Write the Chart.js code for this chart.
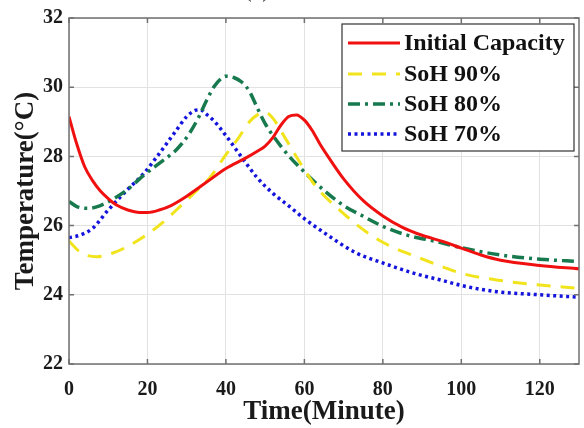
<!DOCTYPE html>
<html>
<head>
<meta charset="utf-8">
<script src="https://cdn.jsdelivr.net/npm/chart.js@4/dist/chart.umd.min.js"></script>
<style>
  html, body { margin: 0; padding: 0; background: #fff; overflow: hidden; }
  #wrap { width: 584px; height: 428px; position: relative; }
</style>
</head>
<body>
<div id="wrap"><canvas id="tempChart" width="584" height="428"></canvas></div>
<script>
// values
const seriesLabels = ['Initial Capacity', 'SoH 90%', 'SoH 80%', 'SoH 70%'];

const initX = [0, 2, 4, 6, 8, 10, 12, 15, 18, 20, 23, 26, 30, 35, 40, 45, 48, 50, 52, 54, 56, 58, 60, 62, 64, 66, 70, 75, 80, 85, 90, 95, 100, 105, 110, 120, 130];
const initY = [29.15, 28.35, 27.7, 27.3, 27.0, 26.78, 26.6, 26.45, 26.38, 26.38, 26.45, 26.58, 26.85, 27.25, 27.65, 27.95, 28.15, 28.3, 28.55, 28.9, 29.15, 29.2, 29.05, 28.75, 28.35, 28.0, 27.35, 26.72, 26.28, 25.95, 25.72, 25.55, 25.35, 25.15, 25.0, 24.85, 24.75];

const soh90X = [0, 3, 7, 11, 15, 20, 24, 28, 32, 36, 40, 43, 46, 48, 50, 52, 55, 59, 63, 69, 76, 82, 89, 95, 100, 109, 120, 130];
const soh90Y = [25.55, 25.22, 25.1, 25.2, 25.4, 25.75, 26.1, 26.52, 26.95, 27.4, 28.05, 28.5, 29.0, 29.2, 29.28, 29.1, 28.55, 27.8, 27.12, 26.45, 25.8, 25.4, 25.08, 24.82, 24.62, 24.43, 24.28, 24.19];

const soh80X = [0, 2, 5, 8, 11, 15, 19, 23, 27, 29, 31, 33, 35, 37, 39, 40, 42, 44, 46, 48, 50, 52, 56, 60, 65, 70, 75, 80, 86, 94, 100, 110, 120, 130];
const soh80Y = [26.7, 26.55, 26.5, 26.58, 26.75, 27.05, 27.45, 27.8, 28.15, 28.4, 28.72, 29.12, 29.6, 30.02, 30.27, 30.32, 30.28, 30.15, 29.88, 29.4, 28.95, 28.6, 28.02, 27.55, 27.02, 26.58, 26.27, 25.98, 25.73, 25.53, 25.36, 25.15, 25.03, 24.96];

const soh70X = [0, 3, 6, 10, 15, 19, 23, 27, 30, 32, 33.5, 35, 37, 40, 44, 48, 52, 56, 60, 66, 73, 80, 88, 95, 100, 109, 120, 130];
const soh70Y = [25.65, 25.73, 25.92, 26.45, 27.05, 27.5, 28.08, 28.7, 29.15, 29.32, 29.35, 29.22, 29.02, 28.6, 27.98, 27.38, 26.93, 26.57, 26.2, 25.72, 25.22, 24.92, 24.62, 24.42, 24.27, 24.09, 24.0, 23.93];

const xTicks = [0, 20, 40, 60, 80, 100, 120];
const yTicks = [22, 24, 26, 28, 30, 32];

const serif = '"Liberation Serif", "Times New Roman", serif';

function pts(xs, ys) {
  return xs.map((x, i) => ({ x: x, y: ys[i] }));
}

// box, inward ticks, legend and the cut-off panel letter
const framePlugin = {
  id: 'frame',
  afterDraw: (chart) => {
    const ctx = chart.ctx;
    const a = chart.chartArea;
    const xs = chart.scales.x;
    const ys = chart.scales.y;
    ctx.save();
    ctx.strokeStyle = '#707070';
    ctx.lineWidth = 1.5;
    ctx.strokeRect(a.left, a.top, a.right - a.left, a.bottom - a.top);
    ctx.beginPath();
    xTicks.forEach((v) => {
      const p = xs.getPixelForValue(v);
      ctx.moveTo(p, a.bottom); ctx.lineTo(p, a.bottom - 5);
      ctx.moveTo(p, a.top); ctx.lineTo(p, a.top + 5);
    });
    yTicks.forEach((v) => {
      const p = ys.getPixelForValue(v);
      ctx.moveTo(a.left, p); ctx.lineTo(a.left + 5, p);
      ctx.moveTo(a.right, p); ctx.lineTo(a.right - 5, p);
    });
    ctx.stroke();

    // legend box
    const bx = 342, by = 24, bw = 232, bh = 127;
    ctx.fillStyle = '#fff';
    ctx.fillRect(bx, by, bw, bh);
    ctx.strokeStyle = '#333';
    ctx.lineWidth = 1.2;
    ctx.strokeRect(bx, by, bw, bh);
    const rows = [43, 74, 104, 134];
    ctx.font = 'bold 24px ' + serif;
    ctx.textBaseline = 'middle';
    ctx.textAlign = 'left';
    chart.data.datasets.forEach((ds, i) => {
      const y = rows[i];
      ctx.beginPath();
      ctx.setLineDash(ds.borderDash || []);
      ctx.strokeStyle = ds.borderColor;
      ctx.lineWidth = ds.borderWidth;
      ctx.moveTo(348, y);
      ctx.lineTo(400, y);
      ctx.stroke();
      ctx.setLineDash([]);
      ctx.fillStyle = '#111';
      ctx.fillText(ds.label, 404, y + 1);
    });

    ctx.fillStyle = '#555';
    ctx.textAlign = 'center';
    ctx.textBaseline = 'alphabetic';
    ctx.fillText('(c)', 257, -3);
    ctx.restore();
  },
};

const ctx = document.getElementById('tempChart').getContext('2d');
const tempChart = new Chart(ctx, {
  type: 'line',
  data: {
    datasets: [
      {
        label: seriesLabels[0],
        data: pts(initX, initY),
        borderColor: '#f01010',
        borderWidth: 3,
      },
      {
        label: seriesLabels[1],
        data: pts(soh90X, soh90Y),
        borderColor: '#f2e41c',
        borderWidth: 3,
        borderDash: [14, 10],
      },
      {
        label: seriesLabels[2],
        data: pts(soh80X, soh80Y),
        borderColor: '#177a4e',
        borderWidth: 3.5,
        borderDash: [12, 5, 3, 5],
      },
      {
        label: seriesLabels[3],
        data: pts(soh70X, soh70Y),
        borderColor: '#1414dc',
        borderWidth: 3.5,
        borderDash: [3, 3.5],
      },
    ],
  },
  options: {
    responsive: false,
    animation: false,
    layout: { padding: { top: 18, right: 5, left: 0, bottom: 0 } },
    elements: {
      point: { radius: 0 },
      line: { cubicInterpolationMode: 'monotone', fill: false },
    },
    scales: {
      x: {
        type: 'linear',
        min: 0,
        max: 130,
        afterBuildTicks: (s) => { s.ticks = xTicks.map((v) => ({ value: v })); },
        afterFit: (s) => { s.height = 64; },
        grid: { color: '#e2e2e2', drawTicks: false },
        border: { display: false },
        ticks: { color: '#1a1a1a', padding: 14, font: { family: serif, size: 20, weight: 'bold' } },
        title: {
          display: true,
          text: 'Time(Minute)',
          color: '#1a1a1a',
          padding: { top: 0, bottom: 0 },
          font: { family: serif, size: 27, weight: 'bold' },
        },
      },
      y: {
        min: 22,
        max: 32,
        afterBuildTicks: (s) => { s.ticks = yTicks.map((v) => ({ value: v })); },
        afterFit: (s) => { s.width = 69; },
        grid: { color: '#e2e2e2', drawTicks: false },
        border: { display: false },
        ticks: { color: '#1a1a1a', padding: 6, font: { family: serif, size: 20, weight: 'bold' } },
        title: {
          display: true,
          text: 'Temperature(°C)',
          color: '#1a1a1a',
          padding: { top: 10, bottom: 0 },
          font: { family: serif, size: 27, weight: 'bold' },
        },
      },
    },
    plugins: {
      legend: { display: false },
      tooltip: { enabled: false },
    },
  },
  plugins: [framePlugin],
});
</script>
</body>
</html>
